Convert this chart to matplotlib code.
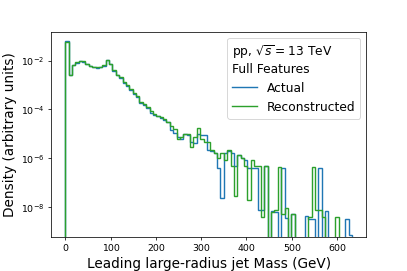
import numpy as np
import matplotlib
matplotlib.use("Agg")
import matplotlib.pyplot as plt
from matplotlib.lines import Line2D
from matplotlib.ticker import FixedLocator, NullLocator

# bin edges (GeV)
mass_min = 0.0
mass_max = 633.0
n_bins = 85

# densities, one per bin
actual = [
    6.5e-2, 2.6e-3, 6.4e-3, 8.2e-3, 9.6e-3, 8.9e-3, 7.2e-3, 6.0e-3, 5.3e-3, 5.1e-3,
    5.4e-3, 6.3e-3, 1.05e-2, 7.0e-3, 3.7e-3, 2.5e-3, 2.0e-3, 1.25e-3, 9.5e-4, 6.5e-4,
    4.2e-4, 3.4e-4, 1.9e-4, 1.6e-4, 1.2e-4, 7.5e-5, 6.2e-5, 5.2e-5, 4.6e-5, 3.8e-5,
    3.0e-5, 1.45e-5, 1.1e-5, 7.2e-6, 6.0e-6, 1.0e-5, 9.1e-6, 4.8e-6, 4.4e-6, 1.0e-5,
    9.1e-6, 9.1e-6, 2.2e-6, 1.9e-6, 1.6e-6, 3.9e-7, 2.3e-8, 1.6e-6, 1.9e-6, 1.6e-6,
    5.0e-7, 1.4e-6, 1.0e-6, 8.9e-7, 3.9e-7, 3.9e-7, 3.9e-7, 7.6e-9, 7.6e-9, 5.0e-7,
    0, 7.1e-9, 6.5e-9, 0, 3.9e-7, 3.5e-9, 0, 5.1e-9, 0, 0,
    0, 4.3e-9, 3.2e-9, 3.2e-9, 0, 3.9e-7, 0, 6.9e-9, 0, 0,
    0, 0, 0, 3.2e-9, 7e-10,
]
reconstructed = [
    5.6e-2, 2.6e-3, 6.6e-3, 8.5e-3, 1.0e-2, 9.3e-3, 7.6e-3, 6.3e-3, 5.6e-3, 5.4e-3,
    5.6e-3, 6.5e-3, 1.07e-2, 7.2e-3, 4.0e-3, 2.6e-3, 2.1e-3, 1.4e-3, 1.0e-3, 6.9e-4,
    4.7e-4, 3.6e-4, 2.1e-4, 1.7e-4, 1.3e-4, 8.3e-5, 6.6e-5, 5.5e-5, 4.9e-5, 4.0e-5,
    3.2e-5, 2.1e-5, 1.55e-5, 6.0e-6, 7.2e-6, 1.0e-5, 1.0e-5, 3.0e-6, 7.2e-6, 1.7e-5,
    6.0e-6, 4.8e-6, 4.8e-6, 2.2e-6, 1.6e-6, 1.0e-6, 1.6e-6, 8.5e-7, 2.2e-6, 5.0e-7,
    2.8e-8, 1.4e-6, 1.0e-6, 5.0e-7, 2.0e-8, 8.5e-7, 5.0e-7, 5.0e-7, 4.0e-9, 5.0e-7,
    0, 6.3e-9, 7.6e-9, 4.6e-7, 5.0e-9, 8.9e-9, 0, 5.1e-9, 0, 0,
    0, 0, 4.0e-9, 4.6e-7, 7.6e-9, 7.6e-9, 4.0e-9, 0, 0, 0,
    4.0e-9, 0, 0, 0, 0,
]

x_ticks = [0, 100, 200, 300, 400, 500, 600]
y_ticks = [1e-8, 1e-6, 1e-4, 1e-2]

edges = np.linspace(mass_min, mass_max, n_bins + 1)
centers = 0.5 * (edges[:-1] + edges[1:])

fig = plt.figure(figsize=(6, 4))
ax = fig.add_axes([0.125, 0.125, 0.775, 0.757])

ax.hist(centers, bins=edges, weights=actual, histtype='step', color='C0', linewidth=1.5)
ax.hist(centers, bins=edges, weights=reconstructed, histtype='step', color='C2', linewidth=1.5)

ax.set_yscale('log')
ax.set_ylim(10**-9.23, 10**-0.81)
ax.set_xlim(-31.6, 664.5)
ax.yaxis.set_major_locator(FixedLocator(y_ticks))
ax.yaxis.set_minor_locator(NullLocator())
ax.set_xticks(x_ticks)

ax.set_xlabel('Leading large-radius jet Mass (GeV)', fontsize=14.5)
ax.set_ylabel('Density (arbitrary units)', fontsize=14.5)

handles = [Line2D([], [], color='C0'), Line2D([], [], color='C2')]
leg = ax.legend(handles, ['Actual', 'Reconstructed'], loc='upper right', fontsize=13,
                title='pp, $\\sqrt{s} = 13$ TeV\nFull Features', title_fontsize=13,
                alignment='left')

fig.savefig('out.png', dpi=67.84)
